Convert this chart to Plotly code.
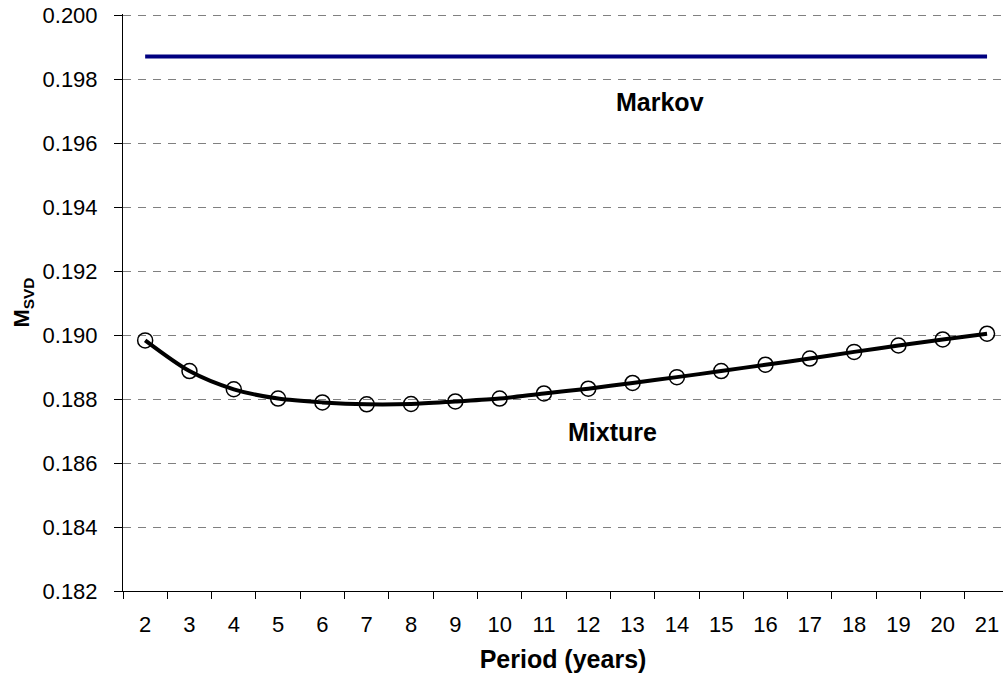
import plotly.graph_objects as go

periods = list(range(2, 22))
mixture = [0.18984, 0.18888, 0.18831, 0.18802, 0.18790, 0.18784, 0.18785, 0.18793,
           0.18802, 0.18818, 0.18833, 0.18851, 0.18869, 0.18888, 0.18908, 0.18927,
           0.18948, 0.18968, 0.18987, 0.19005]
markov_value = 0.19872
markov = [markov_value] * len(periods)
y_ticks = [0.182, 0.184, 0.186, 0.188, 0.190, 0.192, 0.194, 0.196, 0.198, 0.200]

FONT = "Liberation Sans, Arial, sans-serif"

fig = go.Figure()
fig.add_trace(go.Scatter(
    x=periods, y=markov, mode="lines",
    line=dict(color="#000080", width=4), showlegend=False, name="Markov"))
fig.add_trace(go.Scatter(
    x=periods, y=mixture, mode="lines+markers",
    line=dict(color="black", width=4, shape="spline", smoothing=0.8),
    marker=dict(symbol="circle-open", size=15, color="black", line=dict(width=1.5)),
    showlegend=False, name="Mixture"))

fig.add_annotation(x=13.62, y=0.19731, text="<b>Markov</b>", showarrow=False,
                   font=dict(family=FONT, size=25, color="black"))
fig.add_annotation(x=12.55, y=0.18697, text="<b>Mixture</b>", showarrow=False,
                   font=dict(family=FONT, size=25, color="black"))

fig.update_layout(
    width=1003, height=679,
    margin=dict(l=123, r=0, t=14, b=88),
    paper_bgcolor="white", plot_bgcolor="white",
    font=dict(family=FONT, size=22, color="black"),
    xaxis=dict(
        range=[1.5, 21.36],
        tickvals=periods, ticktext=[str(p) for p in periods],
        ticks="", showgrid=False, zeroline=False,
        showline=True, linecolor="black", linewidth=1,
        tickfont=dict(size=22), ticklabelstandoff=14,
        minor=dict(tickvals=[p - 0.5 for p in periods] + [21.5], ticks="outside",
                   ticklen=7, tickcolor="black", tickwidth=1, showgrid=False),
        title=dict(text="<b>Period (years)</b>", font=dict(size=25), standoff=14),
    ),
    yaxis=dict(
        range=[0.182, 0.20005],
        tickvals=y_ticks, ticktext=[f"{v:.3f}" for v in y_ticks],
        ticks="outside", ticklen=8, tickcolor="black",
        showgrid=True, gridcolor="#808080", griddash="8px,7px", gridwidth=1,
        zeroline=False, showline=True, linecolor="black", linewidth=1,
        tickfont=dict(size=22), ticklabelstandoff=12,
        title=dict(text="<b>M<sub>SVD</sub></b>", font=dict(size=22), standoff=6),
    ),
)

fig.write_html("out.html", config={"displayModeBar": False},
               post_script="document.body.style.margin='0px';document.body.style.overflow='hidden';")
